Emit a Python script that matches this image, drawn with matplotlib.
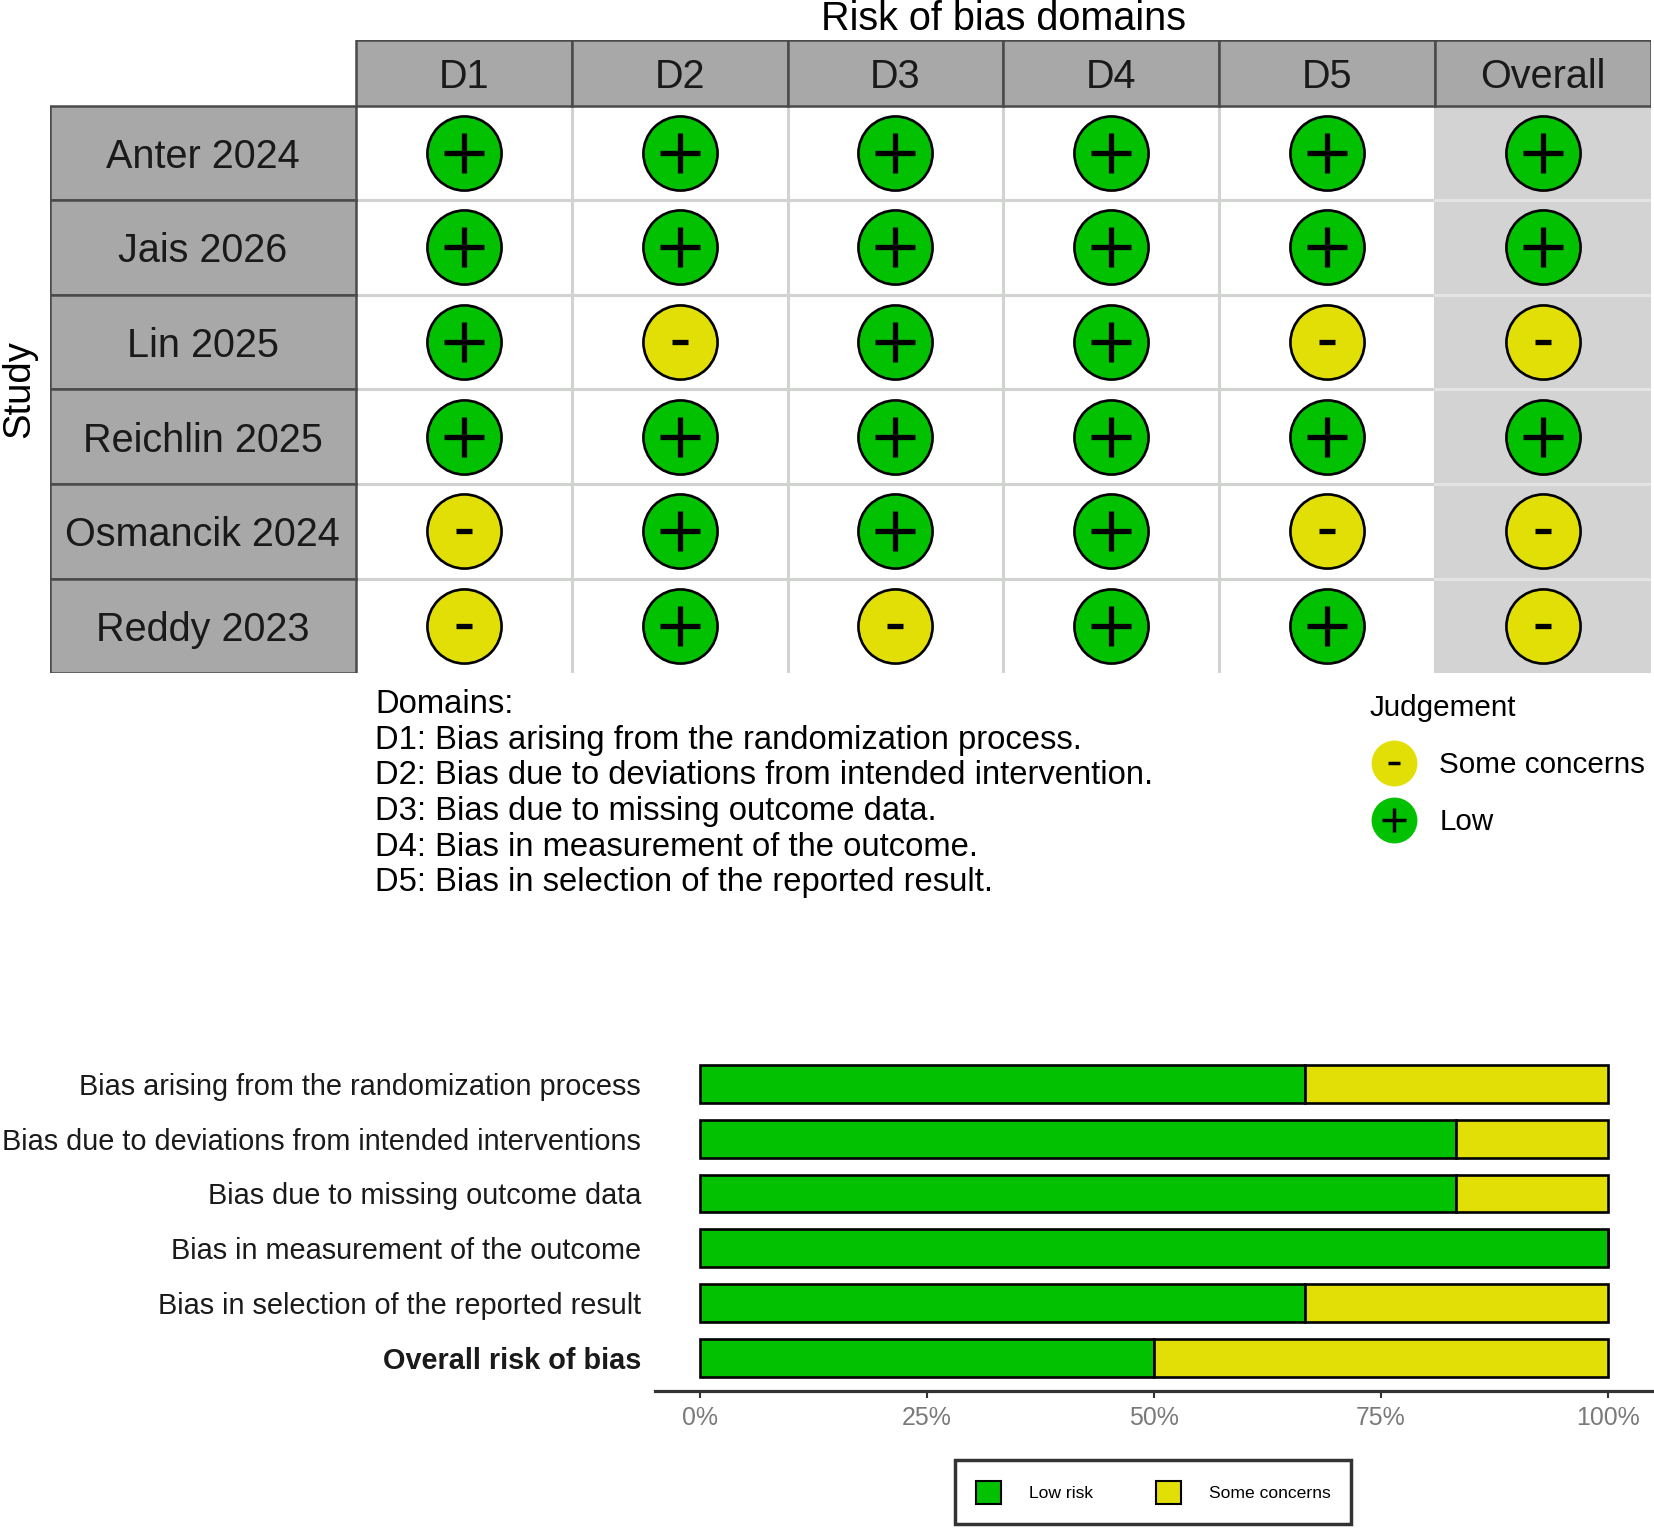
import matplotlib
matplotlib.use("Agg")
import matplotlib.pyplot as plt
from matplotlib.patches import Rectangle, Patch
from matplotlib.lines import Line2D
from matplotlib.legend_handler import HandlerTuple

plt.rcParams['font.family'] = ['Liberation Sans', 'DejaVu Sans']

# data
studies = ["Anter 2024", "Jais 2026", "Lin 2025", "Reichlin 2025", "Osmancik 2024", "Reddy 2023"]
domains = ["D1", "D2", "D3", "D4", "D5", "Overall"]
# L = low risk, S = some concerns
judgements = [
    ["L", "L", "L", "L", "L", "L"],
    ["L", "L", "L", "L", "L", "L"],
    ["L", "S", "L", "L", "S", "S"],
    ["L", "L", "L", "L", "L", "L"],
    ["S", "L", "L", "L", "S", "S"],
    ["S", "L", "S", "L", "L", "S"],
]
domain_desc = [
    "D1: Bias arising from the randomization process.",
    "D2: Bias due to deviations from intended intervention.",
    "D3: Bias due to missing outcome data.",
    "D4: Bias in measurement of the outcome.",
    "D5: Bias in selection of the reported result.",
]
summary_labels = [
    "Bias arising from the randomization process",
    "Bias due to deviations from intended interventions",
    "Bias due to missing outcome data",
    "Bias in measurement of the outcome",
    "Bias in selection of the reported result",
    "Overall risk of bias",
]
tick_vals = [0, 0.25, 0.5, 0.75, 1.0]
tick_labels = ["0%", "25%", "50%", "75%", "100%"]

GREEN = "#02C100"
YELLOW = "#E2DF07"
colors = {"L": GREEN, "S": YELLOW}

# layout measured on a 1566 x 1449 grid
W, H = 1566.0, 1449.0
def box(x0, y0, x1, y1):
    return [x0 / W, 1 - y1 / H, (x1 - x0) / W, (y1 - y0) / H]

fig = plt.figure(figsize=(16.54, 15.29), dpi=100)

# ---------- traffic light table ----------
ax = fig.add_axes(box(47, 38, 1563, 638))
col_w = (1563 - 337) / 6.0
row_h = (638 - 100) / 6.0
x_left = -0.5 - (337 - 47) / col_w
y_top = -0.5 - (100 - 38) / row_h
ax.set_xlim(x_left, len(domains) - 0.5)
ax.set_ylim(len(studies) - 0.5, y_top)
ax.axis("off")

nr, nc = len(studies), len(domains)
# overall column background
ax.add_patch(Rectangle((nc - 1.5, -0.5), 1, nr, facecolor="#D3D3D3", edgecolor="none", zorder=0))
# grid lines
for j in range(nc - 1):
    ax.plot([j + 0.5, j + 0.5], [-0.5, nr - 0.5], color="#D0D3CF", lw=2.2, zorder=1)
for i in range(nr - 1):
    ax.plot([-0.5, nc - 1.5], [i + 0.5, i + 0.5], color="#D0D3CF", lw=2.2, zorder=1)
    ax.plot([nc - 1.5, nc - 0.5], [i + 0.5, i + 0.5], color="#E4E4E4", lw=2.2, zorder=1)
# header cells
for j, d in enumerate(domains):
    ax.add_patch(Rectangle((j - 0.5, y_top), 1, -0.5 - y_top, facecolor="#A8A8A8",
                           edgecolor="#4A4A4A", lw=1.8, zorder=2))
    ax.text(j, (y_top - 0.5) / 2, d, ha="center", va="center_baseline", fontsize=28.5,
            color="#1A1A1A", zorder=3)
# study cells
for i, s in enumerate(studies):
    ax.add_patch(Rectangle((x_left, i - 0.5), -0.5 - x_left, 1, facecolor="#A8A8A8",
                           edgecolor="#4A4A4A", lw=1.8, zorder=2))
    ax.text((x_left - 0.5) / 2, i, s, ha="center", va="center_baseline", fontsize=28.5,
            color="#1A1A1A", zorder=3)

# circles and symbols
for i in range(nr):
    for j in range(nc):
        k = judgements[i][j]
        ax.scatter(j, i, s=2850, color=colors[k], edgecolor="black", linewidth=1.9, zorder=4)
        if k == "L":
            ax.scatter(j, i, marker="+", s=29 ** 2, color="black", linewidth=3.8, zorder=5)
        else:
            ax.scatter(j, i, marker="_", s=11 ** 2, color="black", linewidth=3.8, zorder=5)

fig.text((337 + 1563) / 2 / W, 1 - 18 / H, "Risk of bias domains", ha="center", va="center",
         fontsize=28.5, color="black")
fig.text(18 / W, 1 - 369 / H, "Study", ha="center", va="center", rotation=90,
         fontsize=27.5, color="black")

# domains key
fig.text(355 / W, 1 - 653 / H, "Domains:\n" + "\n".join(domain_desc), ha="left", va="top",
         fontsize=23.6, linespacing=1.195, color="black")

# judgement key
h_some = (Line2D([], [], marker="o", ls="", ms=33, color=YELLOW, mec="none"),
          Line2D([], [], marker="_", ls="", ms=8, mew=2.5, color="black"))
h_low = (Line2D([], [], marker="o", ls="", ms=33, color=GREEN, mec="none"),
         Line2D([], [], marker="+", ls="", ms=17, mew=2.5, color="black"))
leg1 = fig.legend([h_some, h_low], ["Some concerns", "Low"], title="Judgement",
                  handler_map={tuple: HandlerTuple(ndivide=1, pad=0)},
                  loc="upper left", bbox_to_anchor=(1297 / W, 1 - 658 / H),
                  frameon=False, fontsize=21.3, title_fontsize=21.3,
                  labelspacing=0.98, handlelength=1.65, handletextpad=0.7,
                  borderaxespad=0, borderpad=0)
leg1._legend_box.align = "left"

# ---------- summary bar chart ----------
ax2 = fig.add_axes(box(620, 996, 1565, 1318))
low_frac = [sum(1 for r in judgements if r[j] == "L") / nr for j in range(nc)]
some_frac = [1 - v for v in low_frac]
ypos = list(range(len(summary_labels)))
ax2.barh(ypos, low_frac, height=0.69, color=GREEN, edgecolor="black", linewidth=1.9, label="Low risk")
ax2.barh(ypos, some_frac, left=low_frac, height=0.69, color=YELLOW, edgecolor="black",
         linewidth=1.9, label="Some concerns")
ax2.set_xlim(-0.05, 1.05)
ax2.set_ylim(len(summary_labels) - 0.4, -0.6)
for sp in ["top", "left", "right"]:
    ax2.spines[sp].set_visible(False)
ax2.spines["bottom"].set_color("#333333")
ax2.spines["bottom"].set_linewidth(2.3)
ax2.set_yticks(ypos)
ax2.set_yticklabels(summary_labels, fontsize=20.8, color="#1A1A1A")
ax2.get_yticklabels()[-1].set_fontweight("bold")
ax2.set_xticks(tick_vals)
ax2.set_xticklabels(tick_labels, fontsize=17.9, color="#7A7A7A")
ax2.tick_params(axis="y", length=0, pad=10)
ax2.tick_params(axis="x", length=5, width=1.5, color="#333333", pad=6)

leg2 = fig.legend(handles=[Patch(facecolor=GREEN, edgecolor="black", lw=1.5, label="Low risk"),
                           Patch(facecolor=YELLOW, edgecolor="black", lw=1.5, label="Some concerns")],
                  loc="center", bbox_to_anchor=(1092 / W, 1 - 1414 / H), ncol=2,
                  fontsize=12.6, frameon=True, fancybox=False, edgecolor="black",
                  handlelength=1.45, handleheight=1.65, handletextpad=1.6, columnspacing=3.6,
                  borderpad=1.15, borderaxespad=0)
leg2.get_frame().set_linewidth(2.5)

fig.savefig("out.png", dpi=100)
